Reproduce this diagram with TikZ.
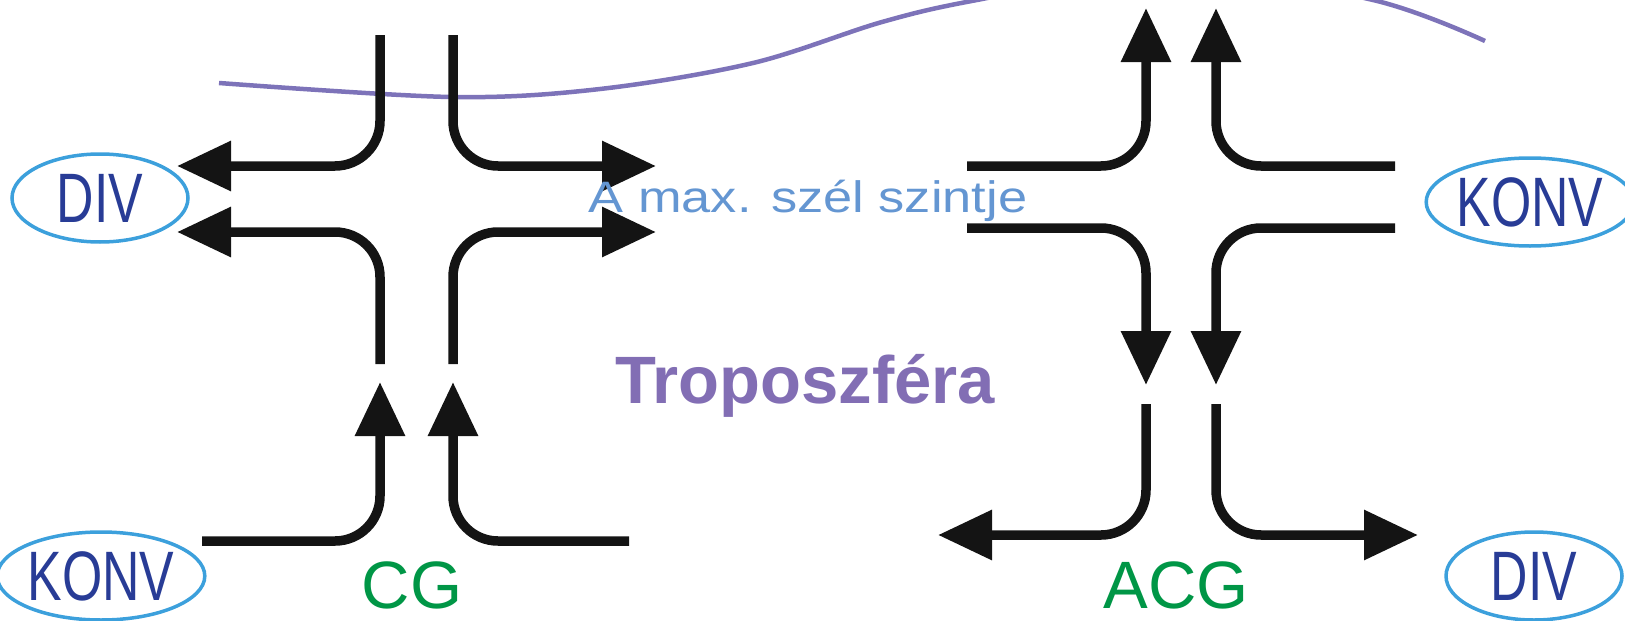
\documentclass[tikz,border=0pt]{standalone}
\usepackage{fontspec}
\setmainfont{Liberation Sans}
\newfontfamily\narrowfont[FakeStretch=0.74]{Liberation Sans}
\newfontfamily\widefont[FakeStretch=1.19]{Liberation Sans}
\usepackage{tikz}
\usetikzlibrary{arrows.meta,shapes.geometric}

\definecolor{ovalline}{RGB}{60,160,220}
\definecolor{ovaltext}{RGB}{40,60,150}
\definecolor{leveltext}{RGB}{100,150,210}
\definecolor{tropotext}{RGB}{130,110,180}
\definecolor{cellgreen}{RGB}{0,150,70}
\definecolor{jetline}{RGB}{125,115,185}

\begin{document}
\begin{tikzpicture}[x=1pt, y=-1pt,
    flow/.style={line width=9.5pt, black!92, rounded corners=45pt,
                 -{Triangle[length=54pt,width=48pt]}},
    oval/.style={ellipse, draw=ovalline, line width=3.5pt, inner sep=0pt,
                 minimum width=176pt, minimum height=88pt, text=ovaltext,
                 font=\narrowfont\fontsize{70}{70}\selectfont},
    cell/.style={anchor=base, text=cellgreen, text depth=0pt, inner ysep=1pt,
                 font=\fontsize{67}{67}\selectfont}]
    \useasboundingbox (0,0) rectangle (1625,621);

    % jet stream
    \begin{scope}
        \clip (0,0) rectangle (1625,621);
        \draw[jetline, line width=4.5pt] plot[smooth, tension=0.55] coordinates {
            (219,83) (451,97) (600,89) (753,63) (882,22)
            (977,0) (1170,-32) (1373,0) (1485,41)};
    \end{scope}

    % CG
    \coordinate (cgNL) at (380,35);
    \coordinate (cgNR) at (453,35);
    \coordinate (cgML) at (380,364);
    \coordinate (cgMR) at (453,364);
    \coordinate (cgUL) at (380,382);
    \coordinate (cgUR) at (453,382);
    \coordinate (cgW1) at (177,166);
    \coordinate (cgW2) at (177,232);
    \coordinate (cgE1) at (656,166);
    \coordinate (cgE2) at (656,232);
    \coordinate (cgSW) at (202,541);
    \coordinate (cgSE) at (629,541);

    \draw[flow] (cgNL) |- (cgW1);
    \draw[flow] (cgNR) |- (cgE1);
    \draw[flow] (cgML) |- (cgW2);
    \draw[flow] (cgMR) |- (cgE2);
    \draw[flow] (cgSW) -| (cgUL);
    \draw[flow] (cgSE) -| (cgUR);

    % ACG
    \coordinate (acgNL) at (1146,8);
    \coordinate (acgNR) at (1216,8);
    \coordinate (acgW1) at (967,166);
    \coordinate (acgE1) at (1395,166);
    \coordinate (acgW2) at (967,228);
    \coordinate (acgE2) at (1395,228);
    \coordinate (acgDL) at (1146,385);
    \coordinate (acgDR) at (1216,385);
    \coordinate (acgML) at (1146,404);
    \coordinate (acgMR) at (1216,404);
    \coordinate (acgSW) at (938,535);
    \coordinate (acgSE) at (1418,535);

    \draw[flow] (acgW1) -| (acgNL);
    \draw[flow] (acgE1) -| (acgNR);
    \draw[flow] (acgW2) -| (acgDL);
    \draw[flow] (acgE2) -| (acgDR);
    \draw[flow] (acgML) |- (acgSW);
    \draw[flow] (acgMR) |- (acgSE);

    % labels
    \node[oval] (divL) at (100,198) {DIV};
    \node[oval] (konvL) at (101,576) {KONV};
    \node[oval] (konvR) at (1530,202) {KONV};
    \node[oval] (divR) at (1534,576) {DIV};

    \node[anchor=base, text=leveltext, font=\widefont\fontsize{44}{44}\selectfont]
        (level) at (808,212) {A max. szél szintje};
    \node[anchor=base, text=tropotext, font=\bfseries\fontsize{67}{67}\selectfont]
        (tropo) at (805,403) {Troposzféra};
    \node[cell] (cg) at (412,608) {CG};
    \node[cell] (acg) at (1176,608) {ACG};
\end{tikzpicture}
\end{document}
